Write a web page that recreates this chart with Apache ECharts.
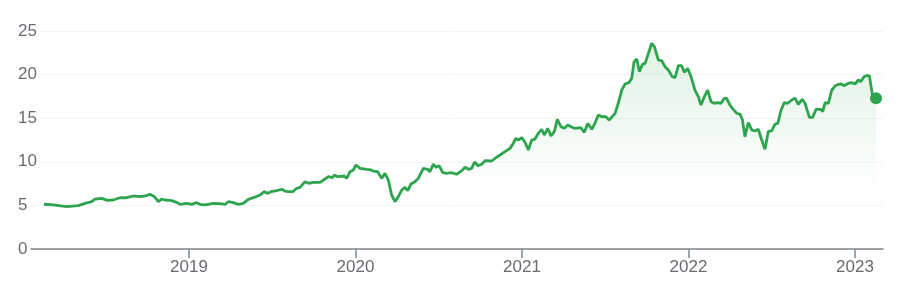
<!DOCTYPE html>
<html>
<head>
<meta charset="utf-8">
<script src="https://cdn.jsdelivr.net/npm/echarts@6/dist/echarts.min.js"></script>
<style>html,body{margin:0;padding:0;background:#fff}#c{width:903px;height:292px}</style>
</head>
<body>
<div id="c"></div>
<script>
// Dates as decimal years
const dates = [
2018.129,2018.185,2018.265,2018.335,2018.375,2018.416,2018.435,2018.476,2018.509,2018.545,
2018.586,2018.626,2018.665,2018.706,2018.736,2018.766,2018.792,2018.816,2018.836,2018.856,
2018.896,2018.926,2018.946,2018.986,2019.016,2019.046,2019.066,2019.096,2019.146,2019.186,
2019.216,2019.236,2019.266,2019.296,2019.326,2019.356,2019.396,2019.426,2019.452,2019.473,
2019.492,2019.527,2019.557,2019.577,2019.596,2019.623,2019.647,2019.667,2019.697,2019.717,
2019.747,2019.787,2019.807,2019.837,2019.861,2019.873,2019.893,2019.933,2019.947,2019.967,
2019.987,2020.003,2020.027,2020.067,2020.087,2020.107,2020.133,2020.157,2020.177,2020.197,
2020.217,2020.237,2020.257,2020.278,2020.297,2020.314,2020.333,2020.357,2020.377,2020.407,
2020.434,2020.447,2020.467,2020.484,2020.502,2020.524,2020.548,2020.574,2020.608,2020.638,
2020.658,2020.678,2020.698,2020.715,2020.736,2020.758,2020.778,2020.818,2020.838,2020.868,
2020.898,2020.928,2020.948,2020.962,2020.978,2020.998,2021.018,2021.038,2021.058,2021.078,
2021.098,2021.118,2021.134,2021.154,2021.174,2021.194,2021.212,2021.234,2021.254,2021.275,
2021.294,2021.314,2021.354,2021.374,2021.395,2021.419,2021.438,2021.458,2021.479,2021.503,
2021.523,2021.542,2021.559,2021.578,2021.599,2021.619,2021.643,2021.659,2021.673,2021.689,
2021.705,2021.723,2021.739,2021.759,2021.779,2021.795,2021.819,2021.839,2021.859,2021.879,
2021.903,2021.919,2021.939,2021.959,2021.975,2021.995,2022.015,2022.039,2022.059,2022.075,
2022.095,2022.115,2022.135,2022.155,2022.175,2022.195,2022.215,2022.229,2022.249,2022.269,
2022.290,2022.309,2022.323,2022.339,2022.359,2022.380,2022.399,2022.419,2022.435,2022.459,
2022.479,2022.500,2022.520,2022.536,2022.556,2022.575,2022.596,2022.620,2022.640,2022.659,
2022.683,2022.700,2022.726,2022.746,2022.766,2022.794,2022.806,2022.820,2022.840,2022.860,
2022.880,2022.900,2022.920,2022.934,2022.960,2022.980,2023.000,2023.020,2023.034,2023.054,
2023.070,2023.086,2023.106,2023.126
];
const prices = [
5.13,5.05,4.85,4.97,5.24,5.42,5.73,5.80,5.58,5.62,
5.88,5.88,6.08,6.00,6.08,6.27,6.00,5.42,5.73,5.62,
5.54,5.35,5.12,5.24,5.12,5.31,5.12,5.05,5.24,5.20,
5.12,5.42,5.31,5.12,5.24,5.70,5.95,6.19,6.57,6.38,
6.57,6.69,6.85,6.65,6.57,6.57,6.96,7.07,7.72,7.53,
7.64,7.64,7.91,8.29,8.18,8.49,8.29,8.37,8.10,8.86,
9.06,9.63,9.25,9.14,9.10,8.94,8.86,8.10,8.68,7.91,
6.19,5.42,6.00,6.77,7.07,6.69,7.45,7.72,8.10,9.25,
9.14,8.86,9.71,9.37,9.55,8.75,8.68,8.75,8.57,8.98,
9.37,9.14,9.25,9.98,9.55,9.73,10.13,10.09,10.40,10.78,
11.16,11.54,12.12,12.69,12.50,12.77,12.24,11.35,12.50,12.61,
13.27,13.73,13.07,13.84,12.96,13.46,14.87,14.02,13.84,14.22,
14.02,13.84,13.91,13.38,14.40,13.73,14.41,15.37,15.18,15.18,
14.79,15.18,15.56,16.71,18.23,18.92,19.11,19.57,21.48,21.79,
20.33,21.18,21.29,22.44,23.59,23.20,21.67,21.60,20.91,20.53,
19.76,19.65,21.02,21.02,20.26,20.72,19.76,18.20,17.47,16.51,
17.47,18.23,16.89,16.71,16.78,16.71,17.28,17.28,16.51,16.02,
15.56,15.48,14.87,12.88,14.49,13.65,13.53,13.73,12.76,11.43,
13.46,13.57,14.33,14.41,15.94,16.78,16.71,17.09,17.30,16.60,
17.17,16.71,15.10,15.10,16.02,16.02,15.75,16.78,16.71,18.23,
18.69,18.89,18.92,18.73,19.00,19.08,18.92,19.38,19.19,19.76,
19.88,19.88,17.50,17.30
];
const yearTicks = [2019, 2020, 2021, 2022, 2023];
const yTicks = [0, 5, 10, 15, 20, 25];

const lineColor = '#2da44e';
const labelColor = '#686c71';
const pts = dates.map((d, i) => [d, prices[i]]);
const last = pts[pts.length - 1];

const chart = echarts.init(document.getElementById('c'), null, {renderer: 'canvas'});
chart.setOption({
  animation: false,
  grid: {left: 28, right: 20, top: 31, bottom: 43, containLabel: false},
  xAxis: {
    type: 'value',
    min: 2018.033,
    max: 2023.168,
    axisLine: {show: true, lineStyle: {color: '#80868b', width: 1.5}},
    axisTick: {show: true, length: 9, customValues: yearTicks, lineStyle: {color: '#80868b', width: 1.5}},
    axisLabel: {
      customValues: yearTicks,
      formatter: v => String(Math.round(v)),
      color: labelColor, fontSize: 17, fontFamily: 'Arial, Liberation Sans, sans-serif', margin: 10
    },
    splitLine: {show: false}
  },
  yAxis: {
    type: 'value',
    min: 0, max: 25, interval: 5,
    axisLine: {show: false},
    axisTick: {show: false},
    axisLabel: {
      customValues: yTicks,
      align: 'left', margin: 10,
      color: labelColor, fontSize: 17, fontFamily: 'Arial, Liberation Sans, sans-serif',
      backgroundColor: '#fff', padding: [2, 3, 2, 0]
    },
    splitLine: {show: true, lineStyle: {color: '#f1f3f4', width: 1}}
  },
  series: [
    {
      type: 'line',
      data: pts,
      showSymbol: false,
      symbol: 'none',
      lineStyle: {color: lineColor, width: 2.8},
      areaStyle: {
        color: new echarts.graphic.LinearGradient(0, 0, 0, 1, [
          {offset: 0, color: 'rgba(52,168,83,0.22)'},
          {offset: 0.72, color: 'rgba(52,168,83,0)'}
        ])
      },
      z: 3
    },
    {
      type: 'scatter',
      data: [last],
      symbolSize: 12,
      itemStyle: {color: lineColor, opacity: 1},
      z: 4
    }
  ]
});
</script>
</body>
</html>
